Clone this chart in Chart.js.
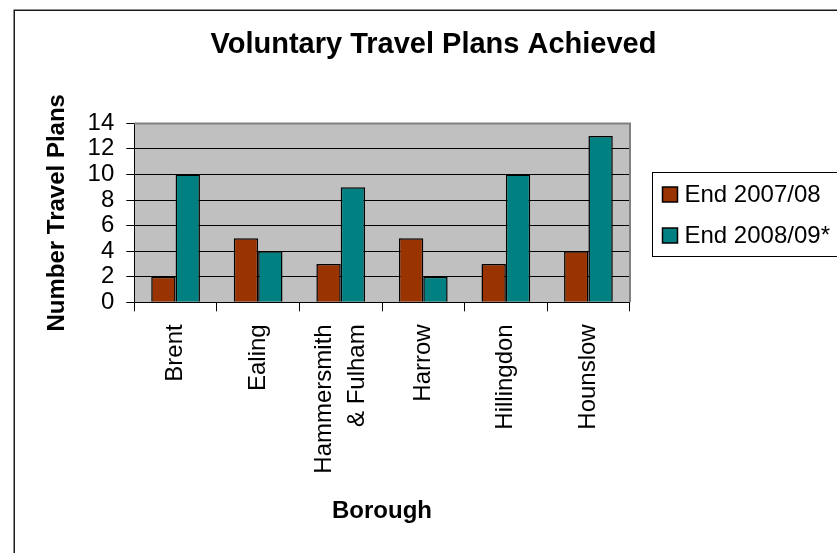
<!DOCTYPE html>
<html>
<head>
<meta charset="utf-8">
<script src="https://cdn.jsdelivr.net/npm/chart.js@4.4.1/dist/chart.umd.min.js"></script>
<style>
  html, body { margin: 0; padding: 0; background: #ffffff; }
  #wrap { position: relative; width: 837px; height: 553px; }
</style>
</head>
<body>
<div id="wrap"><canvas id="c"></canvas></div>
<script>
// ---- data ----
const chartTitle = 'Voluntary Travel Plans Achieved';
const xAxisTitle = 'Borough';
const yAxisTitle = 'Number Travel Plans';
const categories = ['Brent', 'Ealing', ['Hammersmith', '& Fulham'], 'Harrow', 'Hillingdon', 'Hounslow'];
const seriesNames = ['End 2007/08', 'End 2008/09*'];
const end2007_08 = [2, 5, 3, 5, 3, 4];
const end2008_09 = [10, 4, 9, 2, 10, 13];
const yMin = 0, yMax = 14, yStep = 2;
const seriesColors = ['#993300', '#008080'];

const FONT = "'Liberation Sans', Arial, Helvetica, sans-serif";

// background, plot area fill, outer border
const backgroundPlugin = {
  id: 'bg',
  beforeDraw(chart) {
    const {ctx, chartArea: a, width, height} = chart;
    ctx.save();
    ctx.fillStyle = '#ffffff';
    ctx.fillRect(0, 0, width, height);
    ctx.fillStyle = '#c0c0c0';
    ctx.fillRect(a.left, a.top, a.right - a.left, a.bottom - a.top);
    ctx.strokeStyle = '#1a1a1a';
    ctx.lineWidth = 1.5;
    ctx.strokeRect(14.25, 10.25, width + 50, height + 50);
    ctx.restore();
    // centre multi-line rotated category labels on their category
    const sx = chart.scales.x;
    const items = sx.getLabelItems();
    items.forEach(it => {
      if (Array.isArray(it.label) && it.label.length > 1 && !it._shifted) {
        it.options.translation[0] -= (it.label.length - 1) * it.font.lineHeight / 2;
        it._shifted = true;
      }
    });
  },
  afterDatasetsDraw(chart) {
    const {ctx, chartArea: a} = chart;
    ctx.save();
    ctx.strokeStyle = '#808080';
    ctx.lineWidth = 2;
    ctx.beginPath();
    ctx.moveTo(a.left, Math.round(a.top) + 0.5);
    ctx.lineTo(Math.round(a.right), Math.round(a.top) + 0.5);
    ctx.lineTo(Math.round(a.right), a.bottom);
    ctx.stroke();
    ctx.restore();
  }
};

// boxed legend to the right of the plot area
const boxLegendPlugin = {
  id: 'boxLegend',
  afterDraw(chart) {
    const {ctx, chartArea: a} = chart;
    const cy = (a.top + a.bottom) / 2;
    const left = Math.round(a.right) + 22.5;
    const top = Math.round(cy - 40.5) + 0.5;
    const bottom = Math.round(cy + 43) + 0.5;
    ctx.save();
    ctx.strokeStyle = '#000000';
    ctx.lineWidth = 1;
    ctx.strokeRect(left, top, 400, bottom - top);
    ctx.font = '24px ' + FONT;
    ctx.textBaseline = 'middle';
    ctx.textAlign = 'left';
    chart.data.datasets.forEach((ds, i) => {
      const y = top + 22 + i * 41;
      const mx = left + 10;
      ctx.fillStyle = ds.backgroundColor;
      ctx.fillRect(mx, y - 7.5, 15, 15);
      ctx.lineWidth = 1.5;
      ctx.strokeStyle = '#000000';
      ctx.strokeRect(mx, y - 7.5, 15, 15);
      ctx.fillStyle = '#000000';
      ctx.fillText(ds.label, mx + 22, y + 1);
    });
    ctx.restore();
  }
};

new Chart(document.getElementById('c'), {
  type: 'bar',
  data: {
    labels: categories,
    datasets: [
      { label: seriesNames[0], data: end2007_08, backgroundColor: seriesColors[0],
        borderColor: '#000000', borderWidth: 1.5, categoryPercentage: 0.59, barPercentage: 1.0, yAxisID: 'y' },
      { label: seriesNames[1], data: end2008_09, backgroundColor: seriesColors[1],
        borderColor: '#000000', borderWidth: 1.5, categoryPercentage: 0.59, barPercentage: 1.0, yAxisID: 'y' }
    ]
  },
  options: {
    responsive: true,
    maintainAspectRatio: false,
    animation: false,
    events: [],
    layout: { padding: { left: 30, right: 0, top: 0, bottom: 0 } },
    plugins: {
      legend: { display: false },
      tooltip: { enabled: false },
      title: {
        display: true,
        text: chartTitle,
        color: '#000000',
        font: { family: FONT, size: 29, weight: 'bold' },
        padding: { top: 28, bottom: 60.5 }
      }
    },
    scales: {
      x: {
        type: 'category',
        offset: true,
        grid: { display: true, offset: true, drawOnChartArea: false, drawTicks: true, tickLength: 9, color: '#000000', lineWidth: 1 },
        border: { display: true, color: '#000000', width: 1 },
        ticks: { color: '#000000', font: { family: FONT, size: 24, lineHeight: 1.375 }, maxRotation: 90, minRotation: 90, padding: 13, autoSkip: false },
        title: { display: true, text: xAxisTitle, color: '#000000', font: { family: FONT, size: 24, weight: 'bold' }, padding: { top: 0, bottom: 27.6 } },
        afterFit(s) { s.height = 250.7; }
      },
      y: {
        type: 'linear',
        position: 'left',
        min: yMin,
        max: yMax,
        grid: { display: true, drawOnChartArea: true, drawTicks: true, tickLength: 8, color: '#000000', lineWidth: 1 },
        border: { display: true, color: '#000000', width: 1 },
        ticks: { stepSize: yStep, autoSkip: false, color: '#000000', font: { family: FONT, size: 24, lineHeight: 1.0 }, padding: 12 },
        title: { display: true, text: yAxisTitle, color: '#000000', font: { family: FONT, size: 24, weight: 'bold' }, padding: { top: 12.6, bottom: 0 } },
        afterFit(s) { s.width = 104.3; }
      },
      spacer: {
        type: 'linear',
        position: 'right',
        display: true,
        grid: { display: false, drawTicks: false },
        border: { display: false },
        ticks: { display: false },
        afterFit(s) { s.width = 207.3; }
      }
    }
  },
  plugins: [backgroundPlugin, boxLegendPlugin]
});
</script>
</body>
</html>
